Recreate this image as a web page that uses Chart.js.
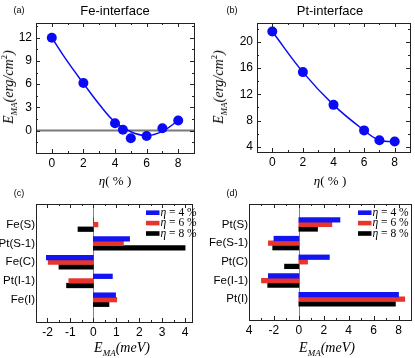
<!DOCTYPE html>
<html>
<head>
<meta charset="utf-8">
<script src="https://cdn.jsdelivr.net/npm/chart.js@4.4.0/dist/chart.umd.min.js"></script>
<style>
  body { margin: 0; background: #fff; }
  #wrap { position: relative; width: 415px; height: 358px; overflow: hidden; font-family: "Liberation Sans", Arial, sans-serif; }
  canvas { position: absolute; left: 0; top: 0; }
  .t { position: absolute; white-space: nowrap; line-height: 1; color: #000; transform: translate(-50%, -50%); }
  .rot { transform: translate(-50%, -50%) rotate(-90deg); }
  .ser { font-family: "Liberation Serif", "Times New Roman", serif; font-style: italic; font-size: 14px; }
  .ser sub, .ser sup { font-size: 9px; line-height: 0; }
  .up { font-style: normal; }
  .ttl { font-size: 13px; }
  .pl { font-size: 9px; }
</style>
</head>
<body>
<div id="wrap">
  <canvas id="cA" width="415" height="358"></canvas>
  <canvas id="cB" width="415" height="358"></canvas>
  <canvas id="cC" width="415" height="358"></canvas>
  <canvas id="cD" width="415" height="358"></canvas>

  <div class="t pl" style="left:19px;top:10px">(a)</div>
  <div class="t ttl" style="left:115px;top:10px">Fe-interface</div>
  <div class="t pl" style="left:232px;top:10px">(b)</div>
  <div class="t ttl" style="left:330px;top:10px">Pt-interface</div>
  <div class="t pl" style="left:19px;top:193px">(c)</div>
  <div class="t pl" style="left:232px;top:193px">(d)</div>

  <div class="t ser rot" style="left:9px;top:87px">E<sub>MA</sub>(erg/cm<sup class="up">2</sup>)</div>
  <div class="t ser rot" style="left:219px;top:87px">E<sub>MA</sub>(erg/cm<sup class="up">2</sup>)</div>
  <div class="t ser" style="left:115px;top:180px;font-size:13px">η<span class="up">( % )</span></div>
  <div class="t ser" style="left:330px;top:180px;font-size:13px">η<span class="up">( % )</span></div>
  <div class="t ser" style="left:122px;top:348px">E<sub>MA</sub>(meV)</div>
  <div class="t ser" style="left:327px;top:348px">E<sub>MA</sub>(meV)</div>
</div>

<script>
const W = 415, H = 358;

// (a) Fe-interface
const etaA = [0, 2, 4, 4.5, 5, 6, 7, 8];
const emaA = [12.0, 6.15, 0.95, 0.1, -1.0, -0.7, 0.3, 1.3];
// fitted curve
const fitEtaA = [0, 1, 2, 3, 4, 5, 6, 7, 8];
const fitEmaA = [12.0, 8.9, 6.1, 3.4, 1.1, -0.15, -0.65, -0.1, 1.3];

// (b) Pt-interface
const etaB = [0, 2, 4, 6, 7, 8];
const emaB = [21.6, 15.4, 10.4, 6.5, 5.0, 4.8];

// (c) sites near Fe interface, meV
const sitesC = ["Fe(S)", "Pt(S-1)", "Fe(C)", "Pt(I-1)", "Fe(I)"];
const cEta4 = [0, 1.58, -2.05, 0.83, 0.97];
const cEta6 = [0.2, 1.31, -1.97, -1.07, 1.02];
const cEta8 = [-0.67, 4.0, -1.5, -1.17, 0.68];

// (d) sites near Pt interface, meV
const sitesD = ["Pt(S)", "Fe(S-1)", "Pt(C)", "Fe(I-1)", "Pt(I)"];
const dEta4 = [3.3, -2.0, 2.45, -2.45, 8.0];
const dEta6 = [2.65, -2.45, 0.7, -3.0, 8.5];
const dEta8 = [1.5, -2.1, -1.15, -2.5, 7.75];

const etaLabels = ["η = 4 %", "η = 6 %", "η = 8 %"];
const barColors = ["#1414f0", "#e8342a", "#000000"];

const ticksEta = [0, 2, 4, 6, 8];
const minorEta = [1, 3, 5, 7];
const ticksYA = [0, 3, 6, 9, 12];
const minorYA = [-1.5, 1.5, 4.5, 7.5, 10.5, 13.5];
const ticksYB = [4, 8, 12, 16, 20];
const minorYB = [6, 10, 14, 18, 22];
const ticksXC = [-2, -1, 0, 1, 2, 3, 4];
const minorXC = [-1.5, -0.5, 0.5, 1.5, 2.5, 3.5];
const ticksXD = [-4, -2, 0, 2, 4, 6, 8];
const tickLabelsXD = ["4", "-2", "0", "2", "4", "6", "8"];
const minorXD = [-3, -1, 1, 3, 5, 7];

Chart.defaults.font.family = '"Liberation Sans", Arial, sans-serif';
Chart.defaults.font.size = 12;
Chart.defaults.color = "#000";

// box + inward ticks + zero line
const framePlugin = {
  id: "frame",
  beforeDatasetsDraw(chart, args, o) {
    const a = chart.chartArea, ctx = chart.ctx;
    if (!o.zero) return;
    ctx.save();
    ctx.strokeStyle = o.zero.color;
    ctx.lineWidth = o.zero.width;
    ctx.beginPath();
    if (o.zero.axis === "y") {
      const y = chart.scales.y.getPixelForValue(0);
      ctx.moveTo(a.left, y); ctx.lineTo(a.right, y);
    } else {
      const x = Math.round(chart.scales.x.getPixelForValue(0)) + 0.5;
      ctx.moveTo(x, a.top); ctx.lineTo(x, a.bottom);
    }
    ctx.stroke();
    ctx.restore();
  },
  afterDatasetsDraw(chart, args, o) {
    const a = chart.chartArea, ctx = chart.ctx;
    ctx.save();
    ctx.strokeStyle = "#222";
    ctx.lineWidth = 1;
    ctx.strokeRect(Math.round(a.left) + 0.5, Math.round(a.top) + 0.5,
      Math.round(a.right - a.left), Math.round(a.bottom - a.top));
    ctx.beginPath();
    const xt = (vals, len) => vals.forEach(v => {
      const x = Math.round(chart.scales.x.getPixelForValue(v)) + 0.5;
      ctx.moveTo(x, a.bottom); ctx.lineTo(x, a.bottom - len);
      ctx.moveTo(x, a.top); ctx.lineTo(x, a.top + len);
    });
    const yt = (vals, len) => vals.forEach(v => {
      const y = Math.round(chart.scales.y.getPixelForValue(v)) + 0.5;
      ctx.moveTo(a.left, y); ctx.lineTo(a.left + len, y);
      ctx.moveTo(a.right, y); ctx.lineTo(a.right - len, y);
    });
    if (o.xMajor) xt(o.xMajor, 4);
    if (o.xMinor) xt(o.xMinor, 2);
    if (o.yMajor) yt(o.yMajor, 4);
    if (o.yMinor) yt(o.yMinor, 2);
    ctx.stroke();
    ctx.restore();
  }
};

// legend drawn inside the plot, top right
const insetLegend = {
  id: "insetLegend",
  afterDraw(chart, args, o) {
    if (!o.show) return;
    const a = chart.chartArea, ctx = chart.ctx;
    ctx.save();
    ctx.textBaseline = "middle";
    chart.data.datasets.forEach((ds, i) => {
      const x = a.right - o.right, y = a.top + o.top + i * o.dy;
      ctx.fillStyle = ds.backgroundColor;
      ctx.fillRect(x, y - 2.3, 13.5, 4.6);
      ctx.fillStyle = "#000";
      ctx.font = 'italic 11.5px "Liberation Serif", serif';
      ctx.fillText(ds.label[0], x + 14.5, y);
      const w = ctx.measureText(ds.label[0]).width;
      ctx.font = '11.5px "Liberation Serif", serif';
      ctx.fillText(ds.label.slice(1), x + 14.5 + w, y);
    });
    ctx.restore();
  }
};

function place(L, T, R, B, yw, xh) {
  return { left: L - yw, top: T, right: W - R, bottom: H - B - xh };
}

function linAxis(min, max, ticks, size, horizontal, fmt, extra) {
  return Object.assign({
    type: "linear", min, max,
    grid: { display: false, drawTicks: false },
    border: { display: false },
    afterBuildTicks: s => { s.ticks = ticks.map(v => ({ value: v })); },
    afterFit: s => { if (horizontal) s.height = size; else s.width = size; },
    ticks: {
      autoSkip: false, maxRotation: 0,
      padding: horizontal ? 3 : 4,
      callback: fmt || (v => v)
    }
  }, extra || {});
}

function scatterChart(id, pad, xs, ys, fitX, fitY, xr, yr, yTicks, yMinor, zero) {
  const pts = xs.map((x, i) => ({ x, y: ys[i] }));
  const line = (fitX || xs).map((x, i) => ({ x, y: (fitY || ys)[i] }));
  return new Chart(document.getElementById(id), {
    type: "scatter",
    data: {
      datasets: [
        { data: pts, pointRadius: 5, pointBackgroundColor: "#0a0af5", pointBorderWidth: 0, showLine: false },
        { data: line, showLine: true, pointRadius: 0, borderColor: "#0a0af5", borderWidth: 1.5, tension: 0.4 }
      ]
    },
    options: {
      responsive: false, animation: false,
      layout: { padding: pad },
      plugins: {
        legend: { display: false }, tooltip: { enabled: false },
        frame: { xMajor: ticksEta, xMinor: minorEta, yMajor: yTicks, yMinor: yMinor, zero }
      },
      scales: {
        x: linAxis(xr[0], xr[1], ticksEta, 20, true),
        y: linAxis(yr[0], yr[1], yTicks, 30, false)
      }
    },
    plugins: [framePlugin]
  });
}

function barChart(id, pad, yw, sites, series, xr, yr, xTicks, xMinor, xFmt, legendRight) {
  return new Chart(document.getElementById(id), {
    type: "bar",
    data: {
      datasets: series.map((vals, k) => ({
        label: etaLabels[k],
        data: vals.map((v, i) => ({ x: v, y: i })),
        backgroundColor: barColors[k],
        barThickness: 4.6
      }))
    },
    options: {
      indexAxis: "y",
      responsive: false, animation: false,
      layout: { padding: pad },
      plugins: {
        legend: { display: false }, tooltip: { enabled: false },
        frame: { xMajor: xTicks, xMinor: xMinor, zero: { axis: "x", color: "#858585", width: 1 } },
        insetLegend: { show: true, right: legendRight, top: 8.7, dy: 10.4 }
      },
      scales: {
        x: linAxis(xr[0], xr[1], xTicks, 20, true, xFmt),
        y: Object.assign(linAxis(yr[0], yr[1], sites.map((s, i) => i), yw, false, v => sites[v]), {
          reverse: true
        })
      }
    },
    plugins: [framePlugin, insetLegend]
  });
}

scatterChart("cA", place(36, 23, 194, 153, 30, 20), etaA, emaA, fitEtaA, fitEmaA,
  [-1, 9], [-2.9, 13.9], ticksYA, minorYA, { axis: "y", color: "#7a7a7a", width: 2 });

scatterChart("cB", place(257, 23, 412, 152, 30, 20), etaB, emaB, null, null,
  [-1, 9], [3.2, 22.9], ticksYB, minorYB, null);

const cc = barChart("cC", place(36, 204, 192, 322, 36, 20), 36, sitesC, [cEta4, cEta6, cEta8],
  [-2.5, 4.3], [-0.47, 4.56], ticksXC, minorXC, null, 46);
cc.options.scales.y.ticks.padding = 1;
cc.options.scales.y.ticks.font = { size: 11.5 };
cc.update();

const dd = barChart("cD", place(249, 204, 411, 320, 60, 20), 60, sitesD, [dEta4, dEta6, dEta8],
  [-4, 9], [-0.47, 4.49], ticksXD, minorXD, v => tickLabelsXD[ticksXD.indexOf(v)], 53);
dd.options.scales.y.ticks.padding = 1;
dd.options.scales.y.ticks.font = { size: 11.5 };
dd.update();
</script>
</body>
</html>
